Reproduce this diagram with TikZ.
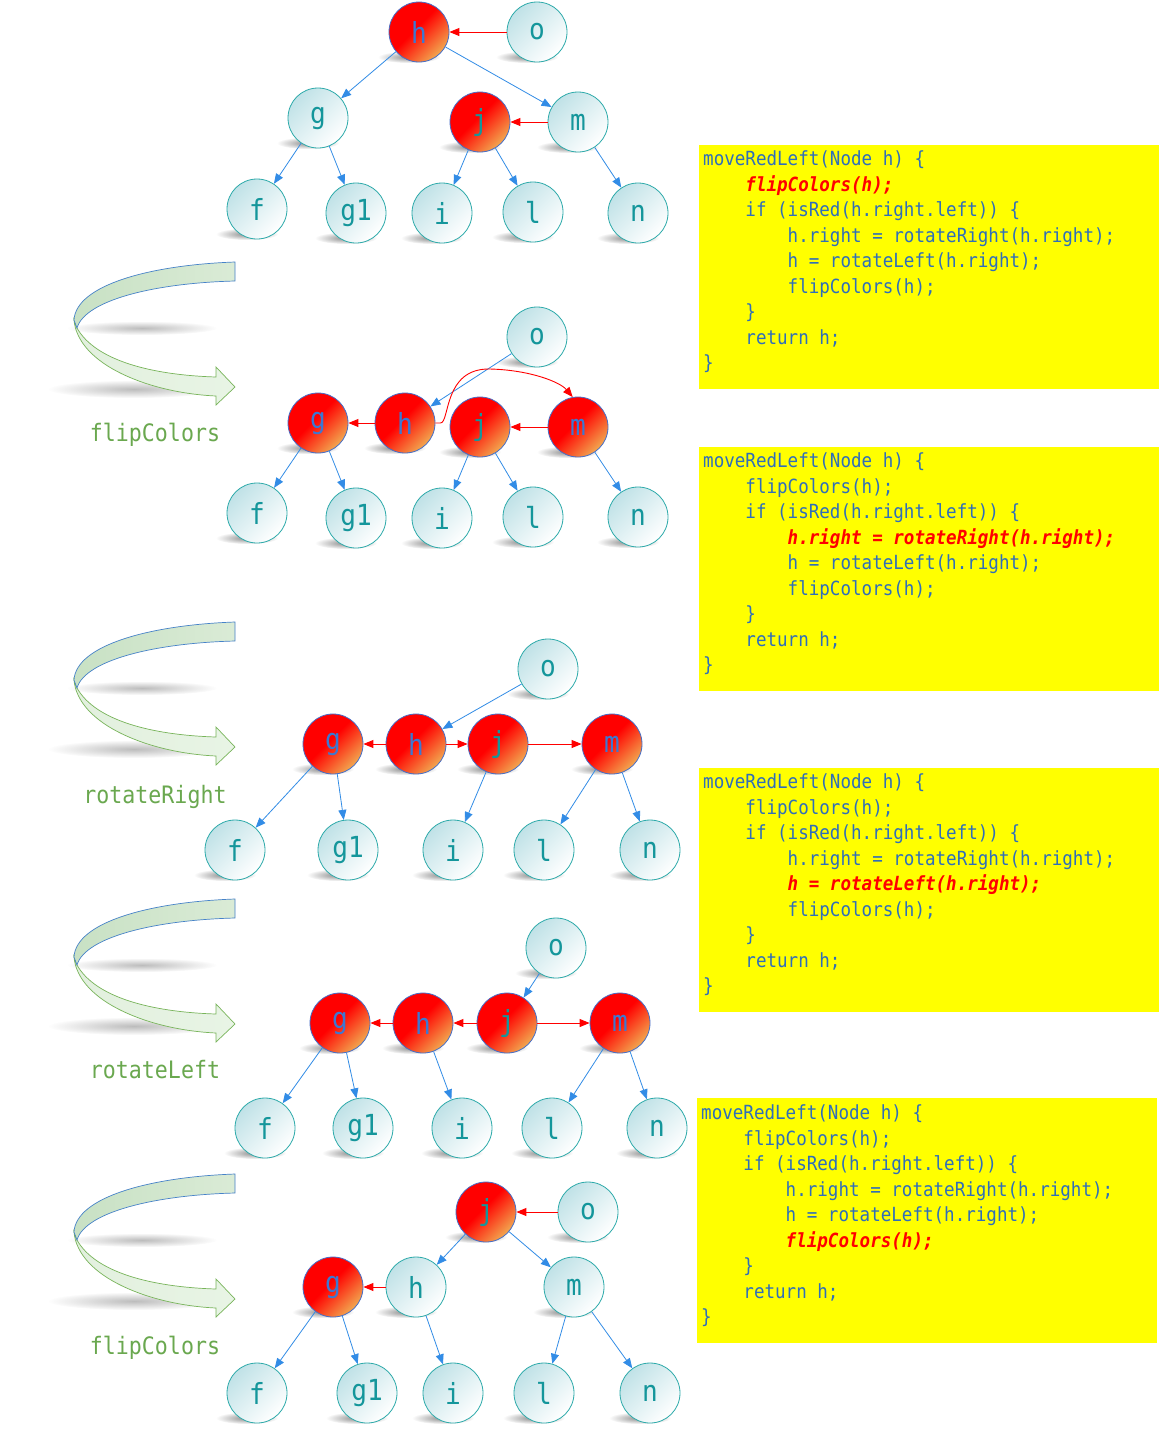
\documentclass[tikz,border=0pt]{standalone}
\usepackage{fontspec}
\newfontfamily\codef[FakeStretch=0.9]{DejaVu Sans Mono}
\usetikzlibrary{arrows.meta,fadings}
\definecolor{tealB}{RGB}{45,170,170}
\definecolor{tealT}{RGB}{20,150,155}
\definecolor{ltteal}{RGB}{192,226,231}
\definecolor{blueB}{RGB}{70,110,200}
\definecolor{blueT}{RGB}{60,120,210}
\definecolor{edgeblue}{RGB}{50,140,230}
\definecolor{orangeE}{RGB}{242,168,80}
\definecolor{codeblue}{RGB}{47,110,186}
\definecolor{codeyellow}{RGB}{255,255,0}
\definecolor{labgreen}{RGB}{106,168,79}
\definecolor{ribtopL}{RGB}{200,225,196}
\definecolor{ribtopR}{RGB}{218,235,214}
\definecolor{ribbotL}{RGB}{226,240,222}
\definecolor{ribbotR}{RGB}{232,244,229}
\definecolor{ribgreen}{RGB}{120,180,90}
\definecolor{ribblue}{RGB}{70,130,200}
\pgfdeclarehorizontalshading{redball}{100bp}{color(0bp)=(red); color(25bp)=(red); color(46bp)=(red); color(75bp)=(orangeE); color(100bp)=(orangeE)}
\pgfdeclarehorizontalshading{lightball}{100bp}{color(0bp)=(ltteal); color(25bp)=(ltteal); color(75bp)=(white); color(100bp)=(white)}
\tikzfading[name=softedge, inner color=transparent!0, outer color=transparent!100]
\pgfdeclarelayer{bg}
\pgfsetlayers{bg,main}
\newcommand\IndA{\hphantom{0000}}
\newcommand\codeblk[4]{%
  \foreach \k/\cdl in {1/{moveRedLeft(Node h) \{},
                       2/{\IndA flipColors(h);},
                       3/{\IndA if (isRed(h.right.left)) \{},
                       4/{\IndA\IndA h.right = rotateRight(h.right);},
                       5/{\IndA\IndA h = rotateLeft(h.right);},
                       6/{\IndA\IndA flipColors(h);},
                       7/{\IndA\}},
                       8/{\IndA return h;},
                       9/{\}}}{%
    \ifnum\k=#4\relax\tikzset{cur/.style=hlcode}\else\tikzset{cur/.style=code}\fi
    \node[cur] (#1-\k) at (#2,{#3+25.5*(\k-1)}) {\cdl};
  }}
\newcommand\ribbon[1]{%
  \begin{scope}[shift={(0,#1)}]
    \fill[shd, fill opacity=0.4] (142,328) ellipse (75 and 7);
    \fill[shd, fill opacity=0.4] (134,389) ellipse (86 and 9);
    \shadedraw[draw=ribgreen, line width=0.7pt, left color=ribbotL, right color=ribbotR]
      (74,320) .. controls (78,365) and (150,393) .. (216,396) -- (216,405) -- (235,387)
      -- (216,367) -- (216,377) .. controls (150,375) and (95,360) .. (77,328) -- cycle;
    \shadedraw[draw=ribblue, line width=0.7pt, left color=ribtopL, right color=ribtopR]
      (235,262) .. controls (150,265) and (76,285) .. (74,320) -- (77,328)
      .. controls (85,300) and (155,283) .. (235,281) -- cycle;
  \end{scope}}
\tikzset{
  nodebase/.style={circle, minimum size=60pt, inner sep=0pt, line width=0.8pt, shade, shading angle=-45,
    font=\fontsize{29}{30}\selectfont\codef},
  lnode/.style={nodebase, draw=tealB, shading=lightball, text=tealT},
  rnode/.style={nodebase, draw=blueB, shading=redball, text=blueT},
  bedge/.style={draw=edgeblue, line width=0.8pt, -{Triangle[length=10pt,width=8pt]}},
  redge/.style={draw=red, line width=0.9pt, -{Triangle[length=10pt,width=8pt]}},
  shd/.style={fill=black!65, path fading=softedge, fill opacity=0.7},
  code/.style={anchor=base west, inner sep=0pt, text=codeblue, font=\fontsize{19.5}{25.5}\selectfont\codef},
  hlcode/.style={anchor=base west, inner sep=0pt, text=red, font=\fontsize{19.5}{25.5}\selectfont\codef\bfseries\itshape},
  lab/.style={anchor=base, inner sep=0pt, text=labgreen, font=\fontsize{24}{26}\selectfont\codef},
}
\begin{document}
\begin{tikzpicture}[x=1pt,y=-1pt]
\begin{pgfonlayer}{bg}
\fill[white] (0,0) rectangle (1160,1433);
\end{pgfonlayer}
\useasboundingbox (0,0) rectangle (1160,1433);

% ---------- code boxes ----------
\fill[codeyellow] (699,145) rectangle (1159,389);
\fill[codeyellow] (699,447) rectangle (1159,691);
\fill[codeyellow] (699,768) rectangle (1159,1012);
\fill[codeyellow] (697,1098) rectangle (1157,1343);
\codeblk{cA}{703}{165.5}{2}
\codeblk{cB}{703}{467.5}{4}
\codeblk{cC}{703}{788.5}{5}
\codeblk{cD}{701}{1119.5}{6}

% ---------- ribbons ----------
\ribbon{0}
\ribbon{360}
\ribbon{637}
\ribbon{912}
\node[lab] (lab1) at (155,441) {flipColors};
\node[lab] (lab2) at (155,803) {rotateRight};
\node[lab] (lab3) at (155,1078) {rotateLeft};
\node[lab] (lab4) at (155,1354) {flipColors};

% ---------- stage A ----------
\node[rnode] (A-h) at (419,32) {h};
\node[lnode] (A-o) at (537,32) {o};
\node[lnode] (A-g) at (318,118) {g};
\node[rnode, text=tealT] (A-j) at (480,122) {j};
\node[lnode] (A-m) at (578,122) {m};
\node[lnode] (A-f) at (257,209) {f};
\node[lnode] (A-g1) at (356,213) {g1};
\node[lnode] (A-i) at (442,213) {i};
\node[lnode] (A-l) at (533,212) {l};
\node[lnode] (A-n) at (638,213) {n};
\draw[redge] (A-o) -- (A-h);
\draw[bedge] (A-h) -- (A-g);
\draw[bedge] (A-h) -- (A-m);
\draw[bedge] (A-g) -- (A-f);
\draw[bedge] (A-g) -- (A-g1);
\draw[redge] (A-m) -- (A-j);
\draw[bedge] (A-j) -- (A-i);
\draw[bedge] (A-j) -- (A-l);
\draw[bedge] (A-m) -- (A-n);

% ---------- stage B ----------
\node[lnode] (B-o) at (537,337) {o};
\node[rnode] (B-g) at (318,423) {g};
\node[rnode] (B-h) at (405,423) {h};
\node[rnode, text=tealT] (B-j) at (480,427) {j};
\node[rnode] (B-m) at (578,427) {m};
\node[lnode] (B-f) at (257,513) {f};
\node[lnode] (B-g1) at (356,518) {g1};
\node[lnode] (B-i) at (442,518) {i};
\node[lnode] (B-l) at (533,517) {l};
\node[lnode] (B-n) at (638,517) {n};
\draw[bedge] (B-o) -- (B-h);
\draw[redge] (B-h) -- (B-g);
\draw[redge] (B-h.east) -- ++(5,0) .. controls (450,423) and (443,368) .. (490,369)
   .. controls (530,370) and (560,382) .. (B-m.100);
\draw[redge] (B-m) -- (B-j);
\draw[bedge] (B-g) -- (B-f);
\draw[bedge] (B-g) -- (B-g1);
\draw[bedge] (B-j) -- (B-i);
\draw[bedge] (B-j) -- (B-l);
\draw[bedge] (B-m) -- (B-n);

% ---------- stage C ----------
\node[lnode] (C-o) at (548,669) {o};
\node[rnode] (C-g) at (333,744) {g};
\node[rnode] (C-h) at (416,744) {h};
\node[rnode, text=tealT] (C-j) at (498,744) {j};
\node[rnode] (C-m) at (612,744) {m};
\node[lnode] (C-f) at (235,850) {f};
\node[lnode] (C-g1) at (348,850) {g1};
\node[lnode] (C-i) at (453,850) {i};
\node[lnode] (C-l) at (544,850) {l};
\node[lnode] (C-n) at (650,850) {n};
\draw[bedge] (C-o) -- (C-h);
\draw[redge] (C-h) -- (C-g);
\draw[redge] (C-h) -- (C-j);
\draw[redge] (C-j) -- (C-m);
\draw[bedge] (C-g) -- (C-f);
\draw[bedge] (C-g) -- (C-g1);
\draw[bedge] (C-j) -- (C-i);
\draw[bedge] (C-m) -- (C-l);
\draw[bedge] (C-m) -- (C-n);

% ---------- stage D ----------
\node[lnode] (D-o) at (556,948) {o};
\node[rnode] (D-g) at (340,1023) {g};
\node[rnode] (D-h) at (423,1023) {h};
\node[rnode, text=tealT] (D-j) at (507,1023) {j};
\node[rnode] (D-m) at (620,1023) {m};
\node[lnode] (D-f) at (265,1128) {f};
\node[lnode] (D-g1) at (363,1128) {g1};
\node[lnode] (D-i) at (462,1128) {i};
\node[lnode] (D-l) at (552,1128) {l};
\node[lnode] (D-n) at (657,1128) {n};
\draw[bedge] (D-o) -- (D-j);
\draw[redge] (D-j) -- (D-h);
\draw[redge] (D-h) -- (D-g);
\draw[redge] (D-j) -- (D-m);
\draw[bedge] (D-g) -- (D-f);
\draw[bedge] (D-g) -- (D-g1);
\draw[bedge] (D-h) -- (D-i);
\draw[bedge] (D-m) -- (D-l);
\draw[bedge] (D-m) -- (D-n);

% ---------- stage E ----------
\node[rnode, text=tealT] (E-j) at (486,1212) {j};
\node[lnode] (E-o) at (588,1212) {o};
\node[rnode] (E-g) at (333,1287) {g};
\node[lnode] (E-h) at (416,1287) {h};
\node[lnode] (E-m) at (574,1287) {m};
\node[lnode] (E-f) at (257,1393) {f};
\node[lnode] (E-g1) at (367,1393) {g1};
\node[lnode] (E-i) at (453,1393) {i};
\node[lnode] (E-l) at (544,1393) {l};
\node[lnode] (E-n) at (650,1393) {n};
\draw[redge] (E-o) -- (E-j);
\draw[bedge] (E-j) -- (E-h);
\draw[bedge] (E-j) -- (E-m);
\draw[redge] (E-h) -- (E-g);
\draw[bedge] (E-g) -- (E-f);
\draw[bedge] (E-g) -- (E-g1);
\draw[bedge] (E-h) -- (E-i);
\draw[bedge] (E-m) -- (E-l);
\draw[bedge] (E-m) -- (E-n);

% ---------- node shadows ----------
\begin{pgfonlayer}{bg}
  \foreach \s in {A,B,C,D,E}{
    \foreach \n in {h,o,g,j,m,f,g1,i,l,n}{
      \fill[shd] ([xshift=-10pt,yshift=-25pt]\s-\n.center) ellipse (31pt and 6pt);
    }}
\end{pgfonlayer}
\end{tikzpicture}
\end{document}
